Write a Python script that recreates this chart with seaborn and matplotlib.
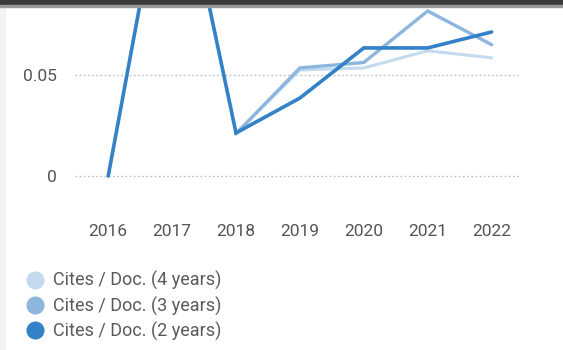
"""Cites per document over time (2, 3 and 4 year windows)."""

import matplotlib.pyplot as plt
import numpy as np
import pandas as pd
import seaborn as sns
from matplotlib.lines import Line2D
from matplotlib.patches import Rectangle

YEARS = [2016, 2017, 2018, 2019, 2020, 2021, 2022]
CITES_4Y = [np.nan, np.nan, 0.021, 0.0525, 0.0535, 0.062, 0.0585]
CITES_3Y = [np.nan, np.nan, 0.021, 0.0535, 0.0562, 0.0817, 0.065]
CITES_2Y = [0.0, 0.171, 0.0213, 0.0386, 0.0634, 0.0634, 0.0713]
SERIES = ["Cites / Doc. (4 years)", "Cites / Doc. (3 years)", "Cites / Doc. (2 years)"]
COLORS = ["#c4daee", "#8cb6de", "#3381c7"]
Y_TICKS = [0, 0.05]
Y_TICK_LABELS = ["0", "0.05"]


def build_frame() -> pd.DataFrame:
    rows = []
    for name, values in zip(SERIES, [CITES_4Y, CITES_3Y, CITES_2Y]):
        for year, val in zip(YEARS, values):
            rows.append({"year": year, "value": val, "series": name})
    return pd.DataFrame(rows).dropna()


def main() -> None:
    sns.set_style("white")
    plt.rcParams["font.family"] = ["Roboto", "DejaVu Sans"]
    df = build_frame()

    fig = plt.figure(figsize=(5.63, 3.5), dpi=100)
    ax = fig.add_axes([75 / 563, (350 - 186) / 350, 446 / 563, 186 / 350])

    sns.lineplot(
        data=df,
        x="year",
        y="value",
        hue="series",
        hue_order=SERIES,
        palette=dict(zip(SERIES, COLORS)),
        linewidth=2.4,
        legend=False,
        ax=ax,
    )
    for line, lw in zip(ax.lines, [2.2, 2.4, 2.6]):
        line.set_linewidth(lw)
        line.set_solid_joinstyle("miter")

    ax.set_xlim(2015.48, 2022.46)
    ax.set_ylim(-10 / 2020, 186 / 2020 - 10 / 2020)
    ax.set_xticks(YEARS)
    ax.set_xticklabels([str(y) for y in YEARS])
    ax.set_yticks(Y_TICKS)
    ax.set_yticklabels(Y_TICK_LABELS)
    for y in Y_TICKS:
        ax.axhline(y, color="#bdbdbd", linestyle=(0, (1.2, 1.8)), linewidth=1.0, zorder=0)
    ax.tick_params(axis="x", length=0, pad=27, labelsize=12.5, labelcolor="#555555")
    ax.tick_params(axis="y", length=0, pad=13, labelsize=12.5, labelcolor="#555555")
    ax.set_xlabel("")
    ax.set_ylabel("")
    sns.despine(ax=ax, left=True, bottom=True)

    handles = [
        Line2D([], [], marker="o", linestyle="", markersize=13, color=c, markeredgewidth=0)
        for c in COLORS
    ]
    fig.legend(
        handles,
        SERIES,
        loc="upper left",
        bbox_to_anchor=(15 / 563, (350 - 262) / 350),
        frameon=False,
        fontsize=13,
        labelcolor="#5a5a5a",
        handletextpad=0.4,
        handlelength=1.2,
        labelspacing=0.34,
        borderpad=0,
    )

    # screenshot edges: dark bar at top, light strip at left
    fig.patches.append(Rectangle((0, 1 - 5 / 350), 1, 5 / 350, transform=fig.transFigure,
                                 color="#3b3b3b", zorder=10))
    fig.patches.append(Rectangle((0, 1 - 7 / 350), 1, 2 / 350, transform=fig.transFigure,
                                 color="#9a9a9a", zorder=10))
    fig.patches.append(Rectangle((0, 0), 5 / 563, 1, transform=fig.transFigure,
                                 color="#f3f3f3", zorder=0))

    fig.savefig("out.png", dpi=100)
    plt.close(fig)


if __name__ == "__main__":
    main()
